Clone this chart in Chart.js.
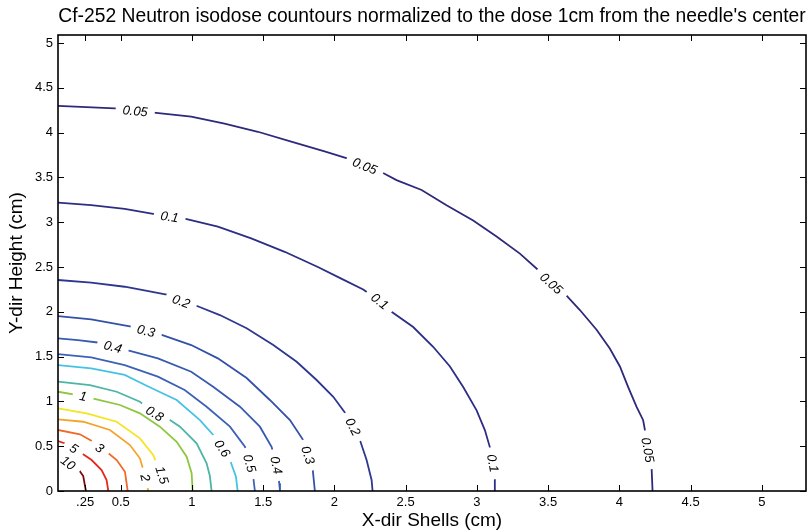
<!DOCTYPE html>
<html>
<head>
<meta charset="utf-8">
<title>Cf-252 neutron isodose contours</title>
<script src="https://cdn.jsdelivr.net/npm/chart.js@4.4.1/dist/chart.umd.min.js"></script>
<style>
  html, body { margin: 0; padding: 0; background: #fff; }
  #wrap { width: 807px; height: 531px; }
</style>
</head>
<body>
<div id="wrap"><canvas id="isodose" width="807" height="531"></canvas></div>
<script>
// isodose levels, normalised to the dose 1cm from the needle centre
const levels = ['0.05', '0.1', '0.2', '0.3', '0.4', '0.5', '0.6', '0.8', '1', '1.5', '2', '3', '5', '10']

// contour points: [x shell (cm), y height (cm)]
const iso005 = [[0.06, 4.30], [0.458, 4.27], [0.602, 4.245], [0.749, 4.22], [0.995, 4.18], [1.229, 4.10], [1.463, 4.01], [1.697, 3.90], [1.931, 3.79], [2.095, 3.71], [2.214, 3.63], [2.342, 3.55], [2.436, 3.47], [2.612, 3.36], [2.787, 3.19], [2.974, 3.02], [3.138, 2.84], [3.302, 2.65], [3.442, 2.45], [3.524, 2.32], [3.618, 2.20], [3.723, 2.02], [3.840, 1.80], [3.933, 1.59], [4.004, 1.39], [4.062, 1.16], [4.121, 0.94], [4.167, 0.79], [4.184, 0.64], [4.202, 0.46], [4.226, 0.27], [4.233, 0]]
const iso01 = [[0.06, 3.22], [0.293, 3.19], [0.528, 3.15], [0.738, 3.09], [0.844, 3.065], [0.949, 3.04], [1.182, 2.95], [1.416, 2.82], [1.651, 2.67], [1.884, 2.50], [2.048, 2.37], [2.202, 2.25], [2.319, 2.12], [2.401, 2.00], [2.553, 1.83], [2.693, 1.61], [2.811, 1.39], [2.904, 1.16], [2.998, 0.90], [3.056, 0.68], [3.091, 0.49], [3.114, 0.31], [3.126, 0.16], [3.126, 0]]
const iso02 = [[0.06, 2.355], [0.293, 2.325], [0.528, 2.28], [0.832, 2.188], [0.925, 2.12], [1.019, 2.076], [1.196, 1.964], [1.384, 1.816], [1.571, 1.63], [1.735, 1.443], [1.875, 1.239], [1.992, 1.052], [2.086, 0.848], [2.132, 0.718], [2.179, 0.569], [2.226, 0.346], [2.261, 0.123], [2.268, 0]]
const iso03 = [[0.06, 1.953], [0.293, 1.916], [0.574, 1.834], [0.679, 1.79], [0.773, 1.752], [0.995, 1.629], [1.182, 1.481], [1.384, 1.261], [1.547, 1.016], [1.688, 0.792], [1.781, 0.569], [1.816, 0.402], [1.847, 0.253], [1.863, 0]]
const iso04 = [[0.06, 1.704], [0.2, 1.685], [0.352, 1.655], [0.446, 1.612], [0.539, 1.574], [0.761, 1.481], [0.995, 1.331], [1.149, 1.164], [1.337, 0.941], [1.477, 0.718], [1.559, 0.494], [1.594, 0.29], [1.613, 0.086], [1.618, 0]]
const iso05 = [[0.06, 1.529], [0.293, 1.492], [0.528, 1.406], [0.761, 1.276], [0.949, 1.127], [1.103, 0.941], [1.267, 0.718], [1.372, 0.494], [1.407, 0.309], [1.43, 0.16], [1.442, 0]]
const iso06 = [[0.06, 1.406], [0.293, 1.369], [0.528, 1.295], [0.682, 1.175], [0.893, 1.016], [1.056, 0.792], [1.161, 0.606], [1.215, 0.477], [1.267, 0.346], [1.309, 0.16], [1.321, 0]]
const iso08 = [[0.06, 1.22], [0.284, 1.183], [0.472, 1.108], [0.635, 0.997], [0.74, 0.867], [0.846, 0.792], [0.916, 0.718], [1.033, 0.532], [1.103, 0.309], [1.126, 0.167], [1.138, 0]]
const iso1 = [[0.06, 1.108], [0.237, 1.06], [0.331, 1.023], [0.495, 0.96], [0.635, 0.867], [0.775, 0.718], [0.893, 0.55], [0.963, 0.383], [0.998, 0.198], [1.005, 0]]
const iso15 = [[0.06, 0.923], [0.261, 0.867], [0.472, 0.773], [0.635, 0.588], [0.728, 0.402], [0.752, 0.309], [0.792, 0.179], [0.811, 0]]
const iso2 = [[0.06, 0.80], [0.237, 0.773], [0.425, 0.681], [0.565, 0.513], [0.635, 0.365], [0.675, 0.148], [0.693, 0]]
const iso3 = [[0.06, 0.681], [0.214, 0.633], [0.307, 0.55], [0.354, 0.483], [0.401, 0.438], [0.472, 0.346], [0.53, 0.215], [0.549, 0]]
const iso5 = [[0.06, 0.558], [0.121, 0.525], [0.172, 0.477], [0.226, 0.421], [0.296, 0.346], [0.366, 0.234], [0.401, 0.123], [0.413, 0]]
const iso10 = [[0.06, 0.413], [0.132, 0.316], [0.202, 0.246], [0.237, 0.167], [0.256, 0]]

const curves = [iso005, iso01, iso02, iso03, iso04, iso05, iso06, iso08, iso1, iso15, iso2, iso3, iso5, iso10]

// which point of each contour carries an inline label
const labelSpots = [[2, 10, 19, 29], [4, 12, 21], [4, 13], [3, 11], [3, 11], [8], [7], [4], [1], [6], [5], [3], [2], [1]]

// axis ticks
const xTicks = [0.25, 0.5, 1, 1.5, 2, 2.5, 3, 3.5, 4, 4.5, 5]
const xTickLabels = ['.25', '0.5', '1', '1.5', '2', '2.5', '3', '3.5', '4', '4.5', '5']
const yTicks = [0, 0.5, 1, 1.5, 2, 2.5, 3, 3.5, 4, 4.5, 5]
const yTickLabels = ['0', '0.5', '1', '1.5', '2', '2.5', '3', '3.5', '4', '4.5', '5']

const lineColors = ['#2d2a7c', '#2c2e85', '#2d3790', '#3451a8', '#385ab0', '#3c62b8', '#45c3e3', '#4db5a6', '#8fc640', '#f5e41e', '#f6a32c', '#ef6a27', '#e2281f', '#7a0b0b']

const titleText = "Cf-252 Neutron isodose countours normalized to the dose 1cm from the needle's center"
const fontFamily = '"Liberation Sans", Arial, Helvetica, sans-serif'
const labelFont = 'italic 13px ' + fontFamily
const tickLen = 6

Chart.defaults.font.family = fontFamily
Chart.defaults.color = '#000'

// angle of the contour at each label point, kept upright
function labelGeometry(chart, di) {
  const pts = chart.getDatasetMeta(di).data
  return labelSpots[di].map(i => {
    const a = pts[i - 1], b = pts[i + 1], p = pts[i]
    let ang = Math.atan2(b.y - a.y, b.x - a.x)
    if (ang > Math.PI / 2) ang -= Math.PI
    if (ang < -Math.PI / 2) ang += Math.PI
    return { x: p.x, y: p.y, ang: ang }
  })
}

// cut a gap in each line where its label sits, then write the labels
const contourLabels = {
  id: 'contourLabels',
  beforeDatasetDraw(chart, args) {
    const ctx = chart.ctx
    ctx.save()
    ctx.font = labelFont
    const half = ctx.measureText(levels[args.index]).width / 2 + 7
    const h = 7
    ctx.beginPath()
    ctx.rect(0, 0, chart.width, chart.height)
    labelGeometry(chart, args.index).forEach(l => {
      const c = Math.cos(l.ang), s = Math.sin(l.ang)
      const corner = (dx, dy) => [l.x + dx * c - dy * s, l.y + dx * s + dy * c]
      ctx.moveTo(...corner(-half, -h))
      ctx.lineTo(...corner(half, -h))
      ctx.lineTo(...corner(half, h))
      ctx.lineTo(...corner(-half, h))
      ctx.closePath()
    })
    ctx.clip('evenodd')
  },
  afterDatasetDraw(chart) {
    chart.ctx.restore()
  },
  afterDatasetsDraw(chart) {
    const ctx = chart.ctx
    ctx.save()
    ctx.font = labelFont
    ctx.fillStyle = '#000'
    ctx.textAlign = 'center'
    ctx.textBaseline = 'middle'
    levels.forEach((lv, di) => {
      labelGeometry(chart, di).forEach(l => {
        ctx.save()
        ctx.translate(l.x, l.y)
        ctx.rotate(l.ang)
        ctx.fillText(lv, 0, 1)
        ctx.restore()
      })
    })
    ctx.restore()
  }
}

// boxed axes with inward ticks on all four sides, plus the title
const boxAxes = {
  id: 'boxAxes',
  afterDraw(chart) {
    const { ctx, chartArea: a, scales: { x, y } } = chart
    ctx.save()
    ctx.strokeStyle = '#000'
    ctx.lineWidth = 1
    ctx.beginPath()
    xTicks.forEach(v => {
      const px = Math.round(x.getPixelForValue(v)) + 0.5
      ctx.moveTo(px, a.bottom); ctx.lineTo(px, a.bottom - tickLen)
      ctx.moveTo(px, a.top); ctx.lineTo(px, a.top + tickLen)
    })
    yTicks.forEach(v => {
      const py = Math.round(y.getPixelForValue(v)) + 0.5
      ctx.moveTo(a.left, py); ctx.lineTo(a.left + tickLen, py)
      ctx.moveTo(a.right, py); ctx.lineTo(a.right - tickLen, py)
    })
    ctx.stroke()
    ctx.lineWidth = 1.6
    ctx.strokeRect(a.left, a.top, a.right - a.left, a.bottom - a.top)

    ctx.font = '19.3px ' + fontFamily
    ctx.fillStyle = '#000'
    ctx.textAlign = 'center'
    ctx.textBaseline = 'middle'
    ctx.fillText(titleText, (a.left + a.right) / 2, 17)
    ctx.restore()
  }
}

const ctx = document.getElementById('isodose').getContext('2d')
const isodoseChart = new Chart(ctx, {
  type: 'scatter',
  data: {
    datasets: curves.map((pts, i) => ({
      label: levels[i],
      data: pts.map(p => ({ x: p[0], y: p[1] })),
      showLine: true,
      borderColor: lineColors[i],
      borderWidth: 1.8,
      pointRadius: 0,
      pointHoverRadius: 0,
      tension: 0,
      fill: false
    }))
  },
  options: {
    responsive: false,
    animation: false,
    events: [],
    layout: { padding: { top: 35, right: 1, left: 0, bottom: 0 } },
    plugins: {
      legend: { display: false },
      tooltip: { enabled: false },
      title: { display: false }
    },
    scales: {
      x: {
        type: 'linear',
        min: 0.06,
        max: 5.31,
        grid: { display: false, drawTicks: false },
        border: { display: false },
        afterBuildTicks: s => { s.ticks = xTicks.map(v => ({ value: v })) },
        afterFit: s => { s.height = 40 },
        ticks: {
          autoSkip: false,
          maxRotation: 0,
          padding: 4,
          font: { size: 13 },
          callback: (v, i) => xTickLabels[i]
        },
        title: {
          display: true,
          text: 'X-dir Shells (cm)',
          font: { size: 19 },
          padding: { top: 0, bottom: -1 }
        }
      },
      y: {
        type: 'linear',
        min: 0,
        max: 5.09,
        grid: { display: false, drawTicks: false },
        border: { display: false },
        afterBuildTicks: s => { s.ticks = yTicks.map(v => ({ value: v })) },
        afterFit: s => { s.width = 58 },
        ticks: {
          autoSkip: false,
          padding: 5,
          font: { size: 13 },
          callback: (v, i) => yTickLabels[i]
        },
        title: {
          display: true,
          text: 'Y-dir Height (cm)',
          font: { size: 19 },
          padding: { top: 5, bottom: 0 }
        }
      }
    }
  },
  plugins: [contourLabels, boxAxes]
})
</script>
</body>
</html>
